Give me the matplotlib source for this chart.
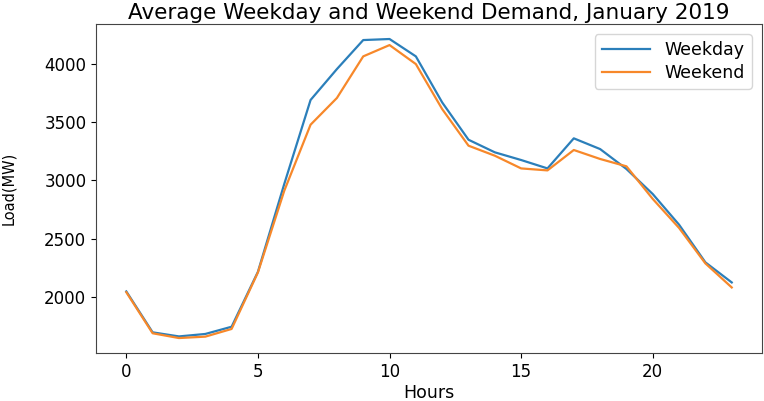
import matplotlib
matplotlib.use("Agg")
import matplotlib.pyplot as plt

hours = list(range(24))
weekday = [2047, 1696, 1661, 1682, 1744, 2215, 2968, 3689, 3954, 4203, 4212, 4063,
           3668, 3348, 3240, 3174, 3102, 3360, 3268, 3097, 2882, 2619, 2296, 2124]
weekend = [2040, 1688, 1647, 1659, 1725, 2210, 2910, 3477, 3706, 4063, 4160, 3997,
           3611, 3297, 3211, 3102, 3085, 3260, 3183, 3120, 2840, 2591, 2287, 2081]

fig = plt.figure(figsize=(7.64, 4.01), dpi=100)
ax = fig.add_axes([0.1257, 0.1197, 0.8717, 0.8203])
ax.plot(hours, weekday, color="#2b7fba", lw=1.6, label="Weekday")
ax.plot(hours, weekend, color="#f7882a", lw=1.6, label="Weekend")
ax.set_title("Average Weekday and Weekend Demand, January 2019", fontsize=15.5, pad=4)
ax.set_xlabel("Hours", fontsize=12.5, labelpad=2)
ax.set_ylabel("Load(MW)", fontsize=10.5, labelpad=20)
ax.tick_params(labelsize=12)
ax.legend(loc="upper right", fontsize=12.5, handlelength=2.8, labelspacing=0.25,
          borderaxespad=0.6)
for s in ax.spines.values():
    s.set_color("#444444")
fig.savefig("out.png", dpi=100)
